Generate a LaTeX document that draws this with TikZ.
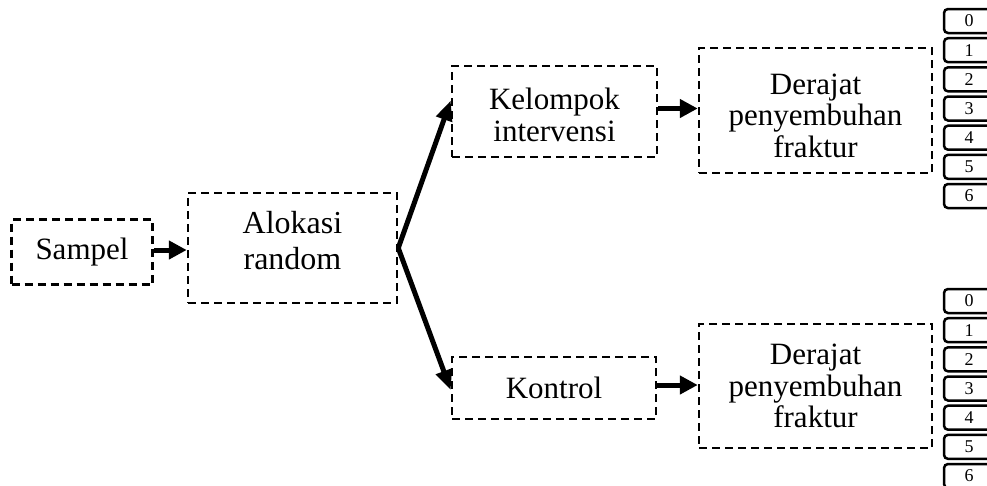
\documentclass[tikz,border=0pt]{standalone}
\usepackage{fontspec}
\setmainfont{Liberation Serif}
\usetikzlibrary{arrows.meta}
\begin{document}
\begin{tikzpicture}[x=1pt,y=-1pt,
  box/.style={draw, dash pattern=on 8pt off 5pt, line width=2.5pt, align=center, inner sep=0pt, font=\fontsize{31}{31.5}\selectfont},
  arr/.style={line width=5pt, -{Triangle[length=18pt,width=18pt]}},
  forkarr/.style={line width=5pt, -{Triangle[length=20pt,width=16pt]}},
  score/.style={draw, rounded corners=4pt, line width=2.5pt, minimum width=50pt, minimum height=24pt, inner sep=0pt, font=\fontsize{18}{18}\selectfont}
]
\clip (0,0) rectangle (987,485);
\node[box, minimum width=141pt, minimum height=65pt] (s) at (82,252) {Sampel};
\node[box, minimum width=209pt, minimum height=110pt, font=\fontsize{32}{36}\selectfont] (a) at (292.5,248) {Alokasi\\random\rule[-15pt]{0pt}{15pt}};
\node[box, minimum width=205pt, minimum height=91pt] (k) at (554.5,111.5) {\rule{0pt}{28pt}Kelompok\\intervensi};
\node[box, minimum width=233pt, minimum height=125pt] (d1) at (815.5,110.5) {\rule{0pt}{31pt}Derajat\\penyembuhan\\fraktur};
\node[box, minimum width=204pt, minimum height=62pt] (c) at (554,388) {Kontrol};
\node[box, minimum width=233pt, minimum height=124pt] (d2) at (815.5,386) {Derajat\\penyembuhan\\fraktur};
\foreach \i in {0,...,6} {
  \node[score] (u\i) at (969,{21+29.17*\i}) {\i};
  \node[score] (l\i) at (969,{301+29.17*\i}) {\i};
}
\draw[arr] ([yshift=2pt]s.east) -- ([yshift=2pt]s.east -| a.west);
\draw[arr] ([yshift=3pt]k.east) -- ([yshift=3pt]k.east -| d1.west);
\draw[arr] ([yshift=3pt]c.east) -- ([yshift=3pt]c.east -| d2.west);
\draw[forkarr] (a.east) -- ([yshift=11pt]k.west);
\draw[forkarr] (a.east) -- ([yshift=-2pt]c.west);
\end{tikzpicture}
\end{document}
